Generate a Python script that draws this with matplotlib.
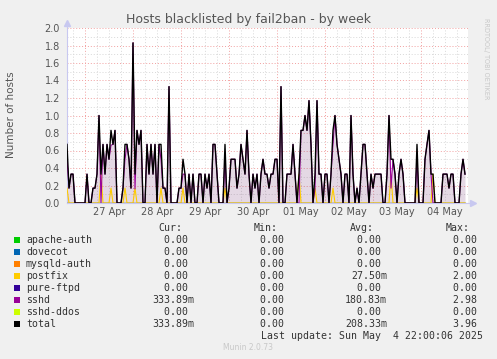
import numpy as np
import matplotlib
matplotlib.use("Agg")
import matplotlib.pyplot as plt
from matplotlib.patches import Rectangle
from matplotlib.ticker import MultipleLocator

# hourly samples, starting 26 Apr 15:00 (hours counted from 26 Apr 00:00)
start_hour = 15

# total hosts blacklisted, one list per day
total_apr26 = [0.67, 0.17, 0.33, 0.33, 0, 0, 0, 0, 0]
total_apr27 = [0, 0.33, 0, 0, 0.17, 0.17, 0.33, 1.0, 0.33, 0.67, 0.33, 0.67,
               0.5, 0.83, 0.67, 0.83, 0, 0, 0, 0.17, 0.67, 0.67, 0.5, 0.17]
total_apr28 = [1.83, 0.33, 0.83, 0.67, 0.83, 0, 0, 0.67, 0.33, 0.67, 0.33, 0.67,
               0, 0.67, 0.67, 0.17, 0.17, 0, 1.33, 0, 0, 0, 0, 0.17]
total_apr29 = [0.17, 0.5, 0.33, 0, 0.33, 0, 0.33, 0, 0, 0.33, 0.33, 0,
               0.33, 0.17, 0.33, 0, 0.67, 0.67, 0.33, 0, 0, 0, 0.67, 0]
total_apr30 = [0.17, 0.5, 0.5, 0.5, 0.17, 0.33, 0.67, 0.5, 0.33, 0.83, 0.33, 0,
               0.33, 0.17, 0.33, 0, 0.33, 0.5, 0.33, 0.33, 0.17, 0.33, 0.33, 0.5]
total_may01 = [0.5, 0, 1.33, 0, 0, 0.33, 0.33, 0.33, 0.67, 0.33, 0, 0.33,
               0.83, 0.83, 1.0, 0.83, 1.17, 0.67, 0, 0.33, 1.17, 0.33, 0.33, 0]
total_may02 = [0.33, 0.33, 0, 0.33, 0.83, 1.0, 0.67, 0.5, 0.33, 0, 0.33, 0.33,
               0, 1.0, 0.33, 0, 0.17, 0, 0.33, 0.67, 0.67, 0.33, 0, 0.33]
total_may03 = [0.17, 0.33, 0.33, 0.33, 0.33, 0, 0, 0.33, 1.0, 0.5, 0.5, 0.33,
               0, 0.33, 0.5, 0.33, 0, 0, 0, 0, 0, 0, 0.67, 0]
total_may04 = [0, 0, 0.5, 0.67, 0.83, 0.33, 0.33, 0, 0, 0, 0, 0.33,
               0.33, 0.33, 0.17, 0.33, 0.33, 0, 0, 0, 0.33, 0.5, 0.33]

# postfix bans (sparse: hour, value)
postfix_hours = [15, 32, 37, 44, 49, 62, 73, 94, 131, 139, 148, 177, 190, 198]
postfix_vals = [0.17, 0.33, 0.17, 0.17, 0.17, 0.17, 0.17, 0.17, 0.33, 0.17, 0.17, 0.33, 0.17, 0.33]

day_labels = ['27 Apr', '28 Apr', '29 Apr', '30 Apr', '01 May', '02 May', '03 May', '04 May']

series_names = ['apache-auth', 'dovecot', 'mysqld-auth', 'postfix', 'pure-ftpd', 'sshd', 'sshd-ddos', 'total']
series_colors = ['#00CC00', '#0066B3', '#FF8000', '#FFCC00', '#330099', '#990099', '#CCFF00', '#000000']
cur_vals = ['0.00 ', '0.00 ', '0.00 ', '0.00 ', '0.00 ', '333.89m', '0.00 ', '333.89m']
min_vals = ['0.00 ', '0.00 ', '0.00 ', '0.00 ', '0.00 ', '0.00 ', '0.00 ', '0.00 ']
avg_vals = ['0.00 ', '0.00 ', '0.00 ', '27.50m', '0.00 ', '180.83m', '0.00 ', '208.33m']
max_vals = ['0.00 ', '0.00 ', '0.00 ', '2.00 ', '0.00 ', '2.98 ', '0.00 ', '3.96 ']

total = np.array(total_apr26 + total_apr27 + total_apr28 + total_apr29 + total_apr30
                 + total_may01 + total_may02 + total_may03 + total_may04)
hours = start_hour + np.arange(len(total))
postfix = np.zeros(len(total))
postfix[np.array(postfix_hours) - start_hour] = postfix_vals
sshd = np.clip(total - postfix, 0, None)
zeros = np.zeros(len(total))
data = {'apache-auth': zeros, 'dovecot': zeros, 'mysqld-auth': zeros, 'postfix': postfix,
        'pure-ftpd': zeros, 'sshd': sshd, 'sshd-ddos': zeros, 'total': total}

W, H = 497, 359
fig = plt.figure(figsize=(W / 100, H / 100), dpi=100)
fig.patch.set_facecolor('#F0F0F0')

def fx(x):
    return x / W

def fy(y):
    return 1 - y / H

# plot area in pixels: x 67..468, y 28..203
ax = fig.add_axes([fx(67), fy(203), (468 - 67) / W, (203 - 28) / H])
ax.set_facecolor('white')
ax.set_xlim(15, 15 + (468 - 67) / 2)
ax.set_ylim(0, 2.0)

ax.xaxis.set_major_locator(MultipleLocator(24))
ax.xaxis.set_minor_locator(MultipleLocator(6))
ax.yaxis.set_major_locator(MultipleLocator(0.2))
ax.yaxis.set_minor_locator(MultipleLocator(0.1))
ax.grid(which='minor', color='#D8D8D8', linestyle=(0, (1, 2)), linewidth=0.7)
ax.grid(which='major', color='#F2A0A0', linestyle=(0, (1, 2)), linewidth=0.7)
ax.set_axisbelow(True)
ax.tick_params(which='both', length=0)
ax.tick_params(axis='y', labelsize=7, labelcolor='#555555', pad=5)
ax.set_yticks(np.arange(0, 2.01, 0.2))
ax.set_yticklabels(['%.1f' % v for v in np.arange(0, 2.01, 0.2)])
ax.set_xticklabels([])
for s in ax.spines.values():
    s.set_visible(False)

# date labels centred at noon
for i, lab in enumerate(day_labels):
    ax.text(24 * (i + 1) + 12, -0.05, lab, ha='center', va='top', fontsize=7, color='#555555')

# shading under the sshd line to mimic the dense munin rendering
ax.fill_between(hours, 0, sshd, color='#6A2A6A', alpha=0.18, linewidth=0)
for name, col in zip(series_names, series_colors):
    lw = 1.0 if name == 'total' else 0.8
    ax.plot(hours, data[name], color=col, linewidth=lw, zorder=3)

# axis arrows
ax.plot([0, 0], [0, 1.03], transform=ax.transAxes, color='#C8C8F0', lw=0.8, clip_on=False)
ax.plot([0], [1.03], transform=ax.transAxes, marker='^', color='#C8C8F0', ms=4, clip_on=False)
ax.plot([0, 1.012], [0, 0], transform=ax.transAxes, color='#C8C8F0', lw=0.8, clip_on=False)
ax.plot([1.012], [0], transform=ax.transAxes, marker='>', color='#C8C8F0', ms=4, clip_on=False)

fig.text(fx(248), fy(19), 'Hosts blacklisted by fail2ban - by week', ha='center', va='center',
         fontsize=9, color='#555555')
fig.text(fx(11), fy(115), 'Number of hosts', rotation=90, ha='center', va='center',
         fontsize=7.5, color='#555555')
fig.text(fx(486), fy(18), 'RRDTOOL/ TOBI OETIKER', rotation=-90, ha='center', va='top',
         fontsize=4.7, color='#C8C8C8')

# legend table
mono = 'DejaVu Sans Mono'
fs = 7.1
tc = '#333333'
fig.text(fx(182), fy(228), 'Cur:', ha='right', va='center', family=mono, fontsize=fs, color=tc)
fig.text(fx(278), fy(228), 'Min:', ha='right', va='center', family=mono, fontsize=fs, color=tc)
fig.text(fx(374), fy(228), 'Avg:', ha='right', va='center', family=mono, fontsize=fs, color=tc)
fig.text(fx(470), fy(228), 'Max:', ha='right', va='center', family=mono, fontsize=fs, color=tc)
for i, name in enumerate(series_names):
    y = 240 + 12 * i
    fig.patches.append(Rectangle((fx(14), fy(y + 3)), 6 / W, 6 / H, transform=fig.transFigure,
                                 facecolor=series_colors[i], edgecolor='none'))
    fig.text(fx(26), fy(y), name, ha='left', va='center', family=mono, fontsize=fs, color=tc)
    fig.text(fx(194), fy(y), cur_vals[i], ha='right', va='center', family=mono, fontsize=fs, color=tc)
    fig.text(fx(290), fy(y), min_vals[i], ha='right', va='center', family=mono, fontsize=fs, color=tc)
    fig.text(fx(387), fy(y), avg_vals[i], ha='right', va='center', family=mono, fontsize=fs, color=tc)
    fig.text(fx(483), fy(y), max_vals[i], ha='right', va='center', family=mono, fontsize=fs, color=tc)
fig.text(fx(483), fy(336), 'Last update: Sun May  4 22:00:06 2025', ha='right', va='center',
         family=mono, fontsize=fs, color=tc)
fig.text(fx(248), fy(348), 'Munin 2.0.73', ha='center', va='center', fontsize=5.5, color='#C8C8C8')

fig.savefig('out.png', dpi=100, facecolor=fig.get_facecolor())
